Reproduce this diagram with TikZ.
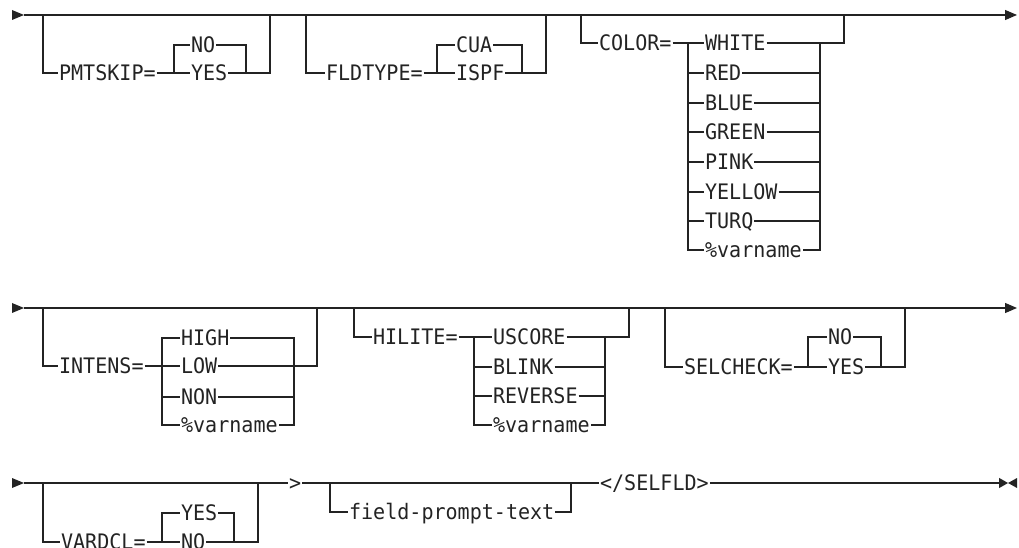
\documentclass[tikz,border=0pt]{standalone}
\usepackage{fontspec}
\usepackage{xcolor}
\usetikzlibrary{arrows.meta}
\newfontfamily\railfont[FakeStretch=0.94]{DejaVu Sans Mono}
\definecolor{ink}{HTML}{232323}
\tikzset{
  rail/.style={line width=0.9pt,draw=ink},
  kw/.style={anchor=west,inner xsep=0.6pt,inner ysep=0pt,text height=11.7pt,
             text depth=0pt,text=ink,font=\railfont\fontsize{16}{19}\selectfont},
  endtip/.style={-{Triangle[length=9pt,width=7.5pt]}},
  stoptip/.style={-{Triangle[length=6.75pt,width=7.5pt]}}
}
\begin{document}
\begin{tikzpicture}[x=0.75pt,y=-0.75pt]
    \useasboundingbox (0,0) rectangle (1019,548);
    \clip (0,0) rectangle (1019,548);
    % row 1
    \fill[ink] (12,10) -- (24,15) -- (12,20) -- cycle;
    \coordinate (r1s) at (24,15);
    \coordinate (r1e) at (1017,15);
    \draw[rail,endtip] (r1s) -- (r1e);
    % PMTSKIP
    \coordinate (pmtL) at (43,15);
    \coordinate (pmtR) at (270,15);
    \coordinate (pmtJ) at (174,73);
    \coordinate (pmtK) at (246,73);
    \node[kw] (pmt) at (58,73) {PMTSKIP=};
    \node[kw] (pmtno) at (190,45) {NO};
    \node[kw] (pmtyes) at (190,73) {YES};
    \draw[rail] (pmtL) |- (pmt.west);
    \draw[rail] (pmt.east) -- (pmtyes.west);
    \draw[rail] (pmtJ) |- (pmtno.west);
    \draw[rail] (pmtno.east) -| (pmtK);
    \draw[rail] (pmtyes.east) -| (pmtR);
    % FLDTYPE
    \coordinate (fldL) at (306,15);
    \coordinate (fldR) at (546,15);
    \coordinate (fldJ) at (437,73);
    \coordinate (fldK) at (522,73);
    \node[kw] (fld) at (325,73) {FLDTYPE=};
    \node[kw] (cua) at (455,45) {CUA};
    \node[kw] (ispf) at (455,73) {ISPF};
    \draw[rail] (fldL) |- (fld.west);
    \draw[rail] (fld.east) -- (ispf.west);
    \draw[rail] (fldJ) |- (cua.west);
    \draw[rail] (cua.east) -| (fldK);
    \draw[rail] (ispf.east) -| (fldR);
    % COLOR
    \coordinate (colL) at (581,15);
    \coordinate (colR) at (844,15);
    \coordinate (colJ) at (688,43);
    \coordinate (colK) at (820,43);
    \node[kw] (col) at (598,43) {COLOR=};
    \node[kw] (white) at (704,43) {WHITE};
    \node[kw] (red) at (704,73) {RED};
    \node[kw] (blue) at (704,103) {BLUE};
    \node[kw] (green) at (704,132) {GREEN};
    \node[kw] (pink) at (704,162) {PINK};
    \node[kw] (yellow) at (704,192) {YELLOW};
    \node[kw] (turq) at (704,221) {TURQ};
    \node[kw] (cvar) at (704,250) {\%varname};
    \draw[rail] (colL) |- (col.west);
    \draw[rail] (col.east) -- (white.west);
    \draw[rail] (colJ) |- (cvar.west);
    \draw[rail] (colK) |- (cvar.east);
    \foreach \n in {red,blue,green,pink,yellow,turq}{
      \draw[rail] (colJ |- \n.west) -- (\n.west);
      \draw[rail] (\n.east) -- (colK |- \n.east);
    }
    \draw[rail] (white.east) -| (colR);
    % row 2
    \fill[ink] (12,303) -- (24,308) -- (12,313) -- cycle;
    \coordinate (r2s) at (24,308);
    \coordinate (r2e) at (1017,308);
    \draw[rail,endtip] (r2s) -- (r2e);
    % INTENS
    \coordinate (intL) at (43,308);
    \coordinate (intR) at (317,308);
    \coordinate (intJ) at (162,338);
    \coordinate (intK) at (294,338);
    \node[kw] (int) at (58,366) {INTENS=};
    \node[kw] (high) at (180,338) {HIGH};
    \node[kw] (low) at (180,366) {LOW};
    \node[kw] (non) at (180,397) {NON};
    \node[kw] (ivar) at (180,425) {\%varname};
    \draw[rail] (intL) |- (int.west);
    \draw[rail] (int.east) -- (low.west);
    \draw[rail] (high.west) -| (intJ |- ivar.west) -- (ivar.west);
    \draw[rail] (intJ |- non.west) -- (non.west);
    \draw[rail] (high.east) -| (intK |- ivar.east) -- (ivar.east);
    \draw[rail] (non.east) -- (intK |- non.east);
    \draw[rail] (low.east) -| (intR);
    % HILITE
    \coordinate (hilL) at (354,308);
    \coordinate (hilR) at (629,308);
    \coordinate (hilJ) at (474,337);
    \coordinate (hilK) at (605,337);
    \node[kw] (hil) at (372,337) {HILITE=};
    \node[kw] (uscore) at (492,337) {USCORE};
    \node[kw] (blink) at (492,367) {BLINK};
    \node[kw] (reverse) at (492,396) {REVERSE};
    \node[kw] (hvar) at (492,425) {\%varname};
    \draw[rail] (hilL) |- (hil.west);
    \draw[rail] (hil.east) -- (uscore.west);
    \draw[rail] (hilJ) |- (hvar.west);
    \draw[rail] (hilK) |- (hvar.east);
    \foreach \n in {blink,reverse}{
      \draw[rail] (hilJ |- \n.west) -- (\n.west);
      \draw[rail] (\n.east) -- (hilK |- \n.east);
    }
    \draw[rail] (uscore.east) -| (hilR);
    % SELCHECK
    \coordinate (selL) at (665,308);
    \coordinate (selR) at (905,308);
    \coordinate (selJ) at (808,367);
    \coordinate (selK) at (881,367);
    \node[kw] (sel) at (683,367) {SELCHECK=};
    \node[kw] (sno) at (827,337) {NO};
    \node[kw] (syes) at (827,367) {YES};
    \draw[rail] (selL) |- (sel.west);
    \draw[rail] (sel.east) -- (syes.west);
    \draw[rail] (selJ) |- (sno.west);
    \draw[rail] (sno.east) -| (selK);
    \draw[rail] (syes.east) -| (selR);
    % row 3
    \fill[ink] (12,478) -- (24,483) -- (12,488) -- cycle;
    \coordinate (r3s) at (24,483);
    \node[kw] (gt) at (288,483) {>};
    \draw[rail] (r3s) -- (gt.west);
    % VARDCL
    \coordinate (varL) at (43,483);
    \coordinate (varR) at (258,483);
    \coordinate (varJ) at (162,542);
    \coordinate (varK) at (234,542);
    \node[kw] (vard) at (60,542) {VARDCL=};
    \node[kw] (vyes) at (180,513) {YES};
    \node[kw] (vno) at (180,542) {NO};
    \draw[rail] (varL) |- (vard.west);
    \draw[rail] (vard.east) -- (vno.west);
    \draw[rail] (varJ) |- (vyes.west);
    \draw[rail] (vyes.east) -| (varK);
    \draw[rail] (vno.east) -| (varR);
    % prompt text and end tag
    \node[kw] (etag) at (599,483) {</SELFLD>};
    \draw[rail] (gt.east) -- (etag.west);
    \coordinate (fpL) at (330,483);
    \coordinate (fpR) at (571,483);
    \node[kw] (fpt) at (348,512) {field-prompt-text};
    \draw[rail] (fpL) |- (fpt.west);
    \draw[rail] (fpt.east) -| (fpR);
    \coordinate (r3e) at (1008,483);
    \draw[rail,stoptip] (etag.east) -- (r3e);
    \fill[ink] (r3e) -- (1017,478) -- (1017,488) -- cycle;
\end{tikzpicture}
\end{document}
